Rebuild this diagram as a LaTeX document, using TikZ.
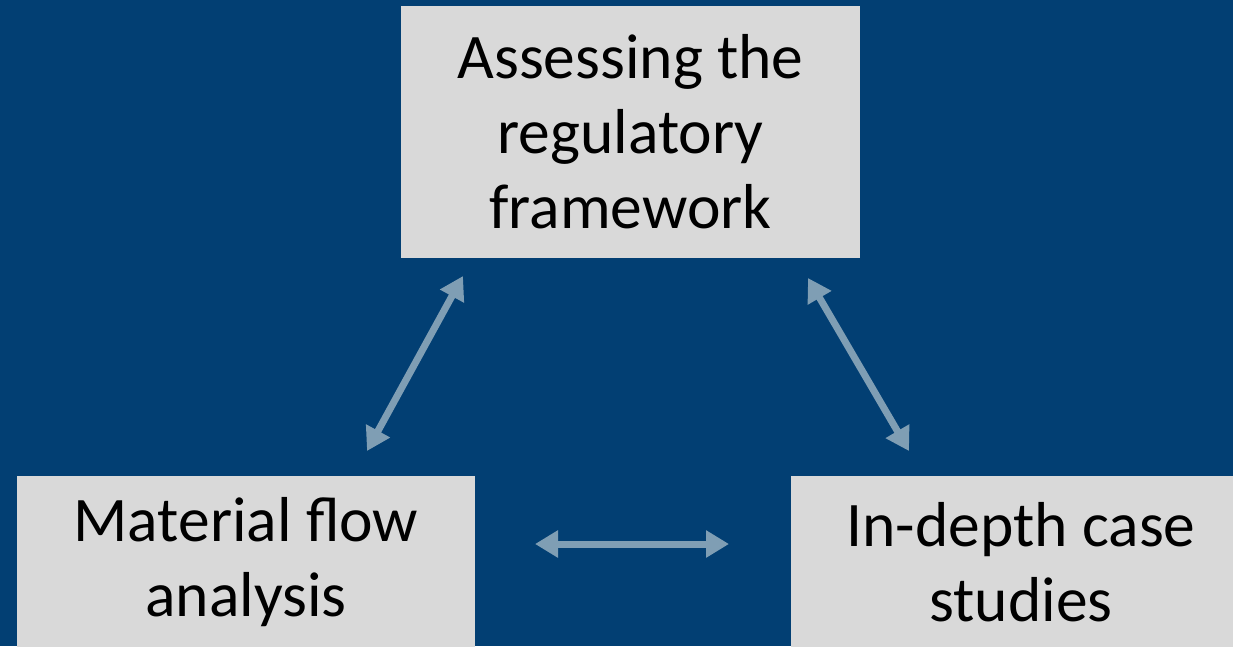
\documentclass[tikz,border=0pt]{standalone}
\usepackage{fontspec}
\setmainfont{Carlito}
\usetikzlibrary{arrows.meta}
\definecolor{bg}{HTML}{023F73}
\definecolor{boxfill}{HTML}{D9D9D9}
\definecolor{arr}{HTML}{7F9EB4}
\tikzset{
  boxnode/.style={fill=boxfill, draw=none, inner sep=0pt, align=center,
    font=\fontsize{63.5}{75}\selectfont, text=black},
  link/.style={draw=arr, line width=7pt,
    {Triangle[width=26pt,length=23pt]}-{Triangle[width=26pt,length=23pt]}}
}
\begin{document}
\begin{tikzpicture}[x=1pt,y=1pt]
\useasboundingbox (0,0) rectangle (1233,-646);
\fill[bg] (0,0) rectangle (1233,-646);
\begin{scope}
\clip (0,0) rectangle (1233,-646);
\node[boxnode, minimum width=459pt, minimum height=252pt] (top) at (630.5,-132) {Assessing the\\regulatory\\framework};
\node[boxnode, minimum width=458pt, minimum height=172pt] (mfa) at (246,-562) {Material flow\\analysis};
\node[boxnode, minimum width=460pt, minimum height=172pt] (cs) at (1021,-562) {In-depth case\\studies};
\end{scope}
\coordinate (a1) at (367,-451);
\coordinate (a2) at (463,-276);
\coordinate (b1) at (808,-278);
\coordinate (b2) at (909,-451);
\coordinate (c1) at (535,-544);
\coordinate (c2) at (729,-544);
\draw[link] (a1) -- (a2);
\draw[link] (b1) -- (b2);
\draw[link] (c1) -- (c2);
\end{tikzpicture}
\end{document}
